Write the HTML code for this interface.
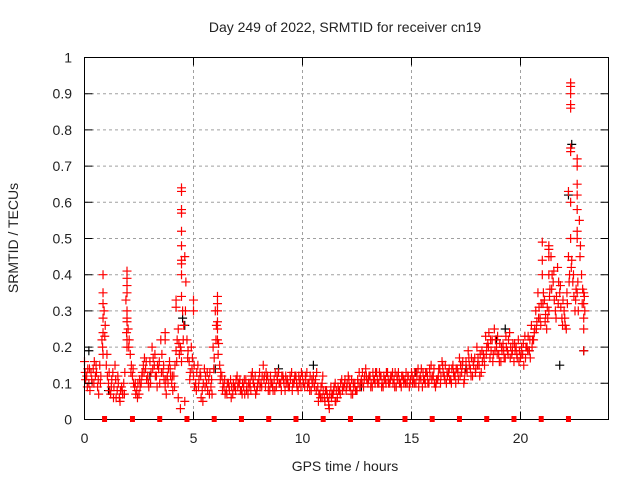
<!DOCTYPE html>
<html><head><meta charset="utf-8"><style>
body{margin:0;background:#fff}
svg text{font-family:"Liberation Sans",sans-serif;font-size:14px;fill:#222}
</style></head><body>
<svg id="chart" width="640" height="480" xmlns="http://www.w3.org/2000/svg">
<text x="345" y="32" text-anchor="middle">Day 249 of 2022, SRMTID for receiver cn19</text>
<text transform="translate(18,238) rotate(-90)" text-anchor="middle">SRMTID / TECUs</text>
<text x="345" y="471" text-anchor="middle">GPS time / hours</text>
<g id="grid"></g>
<g id="marks"></g>
<rect x="84.5" y="57.5" width="524" height="362" fill="none" stroke="#000" stroke-width="1"/>
<g id="ticks"></g>
</svg>
<script>
const xTicks=[0,5,10,15,20];
const yTicks=[0,0.1,0.2,0.3,0.4,0.5,0.6,0.7,0.8,0.9,1];
const yTickLabels=["0","0.1","0.2","0.3","0.4","0.5","0.6","0.7","0.8","0.9","1"];
const redVals=[.16,.12,.10,.13,.14,.12,.09,.15,.22,.30,
.15,.10,.07,.13,.15,.08,.06,.09,.10,.33,
.25,.18,.12,.09,.08,.07,.10,.15,.14,.12,
.16,.20,.15,.12,.14,.22,.13,.09,.12,.16,
.10,.12,.19,.25,.20,.30,.45,.22,.16,.20,
.12,.10,.15,.13,.08,.14,.10,.11,.09,.20,
.30,.25,.15,.12,.09,.08,.10,.11,.07,.09,
.12,.10,.08,.09,.11,.07,.10,.13,.09,.08,
.11,.10,.15,.09,.12,.08,.10,.11,.09,.13,
.10,.12,.08,.11,.09,.13,.10,.12,.08,.11,
.12,.09,.13,.10,.08,.12,.11,.09,.07,.10,
.06,.08,.05,.09,.07,.10,.06,.08,.11,.09,
.08,.12,.09,.07,.10,.08,.13,.11,.09,.14,
.10,.12,.09,.11,.13,.10,.12,.09,.11,.13,
.10,.12,.11,.09,.13,.10,.12,.11,.10,.09,
.13,.11,.10,.14,.12,.09,.11,.13,.10,.15,
.12,.09,.11,.14,.16,.12,.10,.13,.11,.15,
.12,.14,.17,.13,.10,.16,.19,.14,.12,.17,
.20,.15,.13,.18,.23,.21,.17,.22,.25,.20,
.18,.16,.21,.17,.19,.24,.18,.16,.20,.22,
.17,.18,.23,.20,.19,.26,.22,.30,.35,.28,
.40,.33,.25,.30,.45,.38,.30,.42,.35,.28,
.30,.25,.45,.50,.38,.30,.35,.55,.40,.25];
const redVals2=[.11,.14,.08,.10,.16,.13,.07,.12,.18,.26,
.12,.08,.11,.09,.06,.10,.08,.07,.13,.28,
.22,.15,.10,.07,.10,.09,.13,.17,.11,.09,
.13,.17,.12,.15,.10,.18,.11,.07,.14,.12,
.08,.15,.22,.18,.16,.26,.38,.19,.13,.17,
.09,.13,.11,.06,.10,.12,.08,.13,.07,.17,
.26,.21,.13,.10,.07,.10,.08,.09,.09,.11,
.10,.08,.10,.07,.09,.09,.12,.10,.07,.10,
.09,.12,.12,.11,.10,.10,.08,.13,.11,.10,
.12,.10,.10,.09,.11,.10,.12,.09,.10,.13,
.10,.11,.10,.12,.10,.09,.13,.07,.09,.08,
.08,.06,.07,.07,.09,.08,.08,.10,.09,.11,
.10,.09,.11,.09,.08,.10,.10,.13,.12,.11,
.12,.10,.11,.13,.10,.12,.10,.11,.13,.10,
.12,.10,.13,.11,.10,.12,.10,.13,.12,.11,
.10,.13,.12,.11,.14,.11,.13,.10,.12,.12,
.10,.11,.14,.12,.13,.15,.12,.11,.14,.12,
.14,.11,.15,.16,.13,.13,.15,.17,.15,.14,
.17,.18,.16,.15,.20,.24,.19,.18,.22,.23,
.21,.19,.17,.20,.22,.20,.21,.19,.17,.19,
.20,.15,.20,.23,.17,.22,.25,.27,.31,.32,
.35,.29,.28,.36,.40,.33,.34,.38,.31,.33,
.26,.32,.40,.44,.34,.36,.30,.48,.36,.30];
const redVals3=[.13,.09,.14,.11,.10,.15,.11,.10,.20,.23,
.18,.13,.09,.06,.11,.12,.05,.08,.07,.24,
.20,.13,.14,.10,.06,.11,.12,.13,.16,.10,
.10,.14,.18,.09,.16,.13,.15,.11,.10,.14,
.12,.09,.16,.21,.19,.22,.30,.17,.11,.14,
.15,.08,.09,.12,.05,.09,.13,.07,.11,.14,
.22,.18,.11,.08,.11,.07,.09,.06,.10,.08,
.09,.11,.07,.11,.08,.10,.08,.11,.12,.09,
.13,.09,.11,.13,.08,.12,.09,.08,.12,.10,
.08,.11,.12,.10,.12,.08,.11,.10,.12,.09,
.10,.12,.09,.08,.11,.10,.08,.05,.06,.12,
.05,.07,.03,.06,.08,.05,.09,.07,.08,.10,
.09,.11,.07,.10,.08,.11,.09,.10,.11,.12,
.11,.09,.13,.10,.11,.13,.09,.12,.10,.11,
.11,.13,.09,.12,.11,.09,.11,.10,.12,.10,
.12,.10,.13,.09,.11,.13,.10,.12,.14,.11,
.14,.10,.12,.10,.15,.11,.13,.14,.10,.13,
.10,.13,.12,.15,.11,.14,.17,.12,.16,.13,
.15,.12,.19,.17,.18,.20,.22,.16,.19,.18,
.16,.20,.19,.23,.18,.17,.19,.21,.18,.16,
.18,.21,.17,.19,.22,.20,.24,.25,.28,.26,
.32,.27,.31,.34,.36,.41,.28,.32,.37,.26,
.28,.35,.38,.42,.40,.33,.38,.45,.32,.34];
const spikeT=[0.85,0.85,0.85,0.85,0.85,1.95,1.95,1.95,1.95,1.95,1.95,1.95,1.95,
4.45,4.45,4.45,4.45,4.45,4.45,4.45,4.45,4.45,4.45,4.2,4.2,6.1,6.1,6.1,6.1,6.1,3.7,3.7,5.0,5.0,
21.0,21.0,21.3,21.3,21.3,21.3,22.3,22.3,22.3,22.3,22.3,22.3,22.3,22.2,22.3,
22.6,22.6,22.6,22.6,22.6,22.6,22.6,22.9,22.9,22.9,22.9,4.4,4.3,4.6,11.2,11.5,10.9];
const spikeV=[.40,.35,.32,.28,.24,.41,.39,.37,.35,.30,.27,.22,.20,
.64,.63,.58,.57,.52,.48,.44,.43,.40,.34,.33,.31,.34,.32,.30,.27,.22,.22,.24,.33,.30,
.49,.44,.48,.47,.45,.40,.93,.92,.90,.87,.86,.75,.74,.63,.60,
.72,.70,.65,.62,.58,.52,.50,.35,.32,.28,.19,.03,.06,.05,.04,.05,.06];
const blackT=[0.2,1.1,3.0,4.5,4.6,6.0,8.9,10.5,12.7,15.2,17.5,18.9,19.3,20.4,21.8,22.2,22.35,22.9];
const blackV=[.19,.08,.12,.28,.26,.14,.14,.15,.09,.13,.14,.22,.25,.19,.15,.62,.76,.19];
const squareT=[0.92,2.2,3.45,4.7,5.95,7.2,8.45,9.7,10.95,12.2,13.45,14.7,15.95,17.2,18.45,19.7,20.95,22.2];
const xs=t=>84.5+t*21.8;
const ys=v=>419.5-v*362;
const NS="http://www.w3.org/2000/svg";
const grid=document.getElementById('grid'),marks=document.getElementById('marks'),ticks=document.getElementById('ticks');
function mk(tag,attrs,parent){const e=document.createElementNS(NS,tag);for(const k in attrs)e.setAttribute(k,attrs[k]);parent.appendChild(e);return e;}
yTicks.forEach((v,i)=>{
 if(v>0&&v<1){const g=mk('line',{x1:85,x2:608,y1:ys(v),y2:ys(v),stroke:'#a0a0a0','stroke-dasharray':'3,3'},grid);
 
 }
 const tk=mk('path',{d:`M84.5 ${ys(v)}h8M608.5 ${ys(v)}h-8`,stroke:'#000'},ticks);
 
 
 const t=mk('text',{x:72,y:ys(v)+5,'text-anchor':'end'},ticks);t.textContent=yTickLabels[i];
 
 
});
xTicks.forEach(v=>{
 if(v>0){const g=mk('line',{x1:xs(v),x2:xs(v),y1:58,y2:419,stroke:'#a0a0a0','stroke-dasharray':'3,3'},grid);
 
 }
 const tk=mk('path',{d:`M${xs(v)} 419.5v-8M${xs(v)} 57.5v8`,stroke:'#000'},ticks);
 
 
 const t=mk('text',{x:xs(v),y:443,'text-anchor':'middle'},ticks);t.textContent=String(v);
 
 
});
function cross(t,v,color,name){
 const x=xs(t),y=ys(v);
 const p=mk('path',{d:`M${x-4.5} ${y}h9M${x} ${y-4.5}v9`,stroke:color,'stroke-width':1.2},marks);
 
 
}
blackT.forEach((t,i)=>cross(t,blackV[i],'#000','black-point'));
redVals.forEach((v,i)=>cross(i*0.1,v,'#f00','red-point'));
redVals2.forEach((v,i)=>cross(i*0.1+0.05,v,'#f00','red-point'));
redVals3.forEach((v,i)=>cross(i*0.1+0.03,v,'#f00','red-point'));
spikeT.forEach((t,i)=>cross(t,spikeV[i],'#f00','red-point'));
squareT.forEach(t=>{
 const r=mk('rect',{x:xs(t)-2.5,y:416,width:5,height:6,fill:'#f00'},ticks);
 
 
});
</script>
</body></html>
